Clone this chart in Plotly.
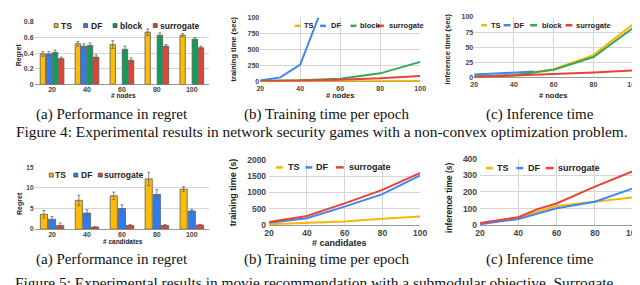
import plotly.graph_objects as go

# ---------------- data ----------------
cats = ["20", "40", "60", "80", "100"]

# Figure 4 (a) regret
reg4_ts = [0.39, 0.52, 0.51, 0.67, 0.63]
reg4_ts_err = [0.03, 0.03, 0.05, 0.04, 0.02]
reg4_df = [0.39, 0.49, None, None, None]
reg4_df_err = [0.03, 0.03, 0, 0, 0]
reg4_block = [0.41, 0.50, 0.45, 0.63, 0.58]
reg4_block_err = [0.03, 0.03, 0.04, 0.03, 0.02]
reg4_sur = [0.33, 0.35, 0.31, 0.49, 0.47]
reg4_sur_err = [0.02, 0.03, 0.03, 0.02, 0.02]

# Figure 4 (b) training time
nodes = [20, 40, 60, 80, 100]
tr4_ts = [2, 3, 5, 6, 8]
tr4_df_x = [20, 30, 40, 50]
tr4_df = [15, 65, 265, 1080]
tr4_block = [10, 20, 45, 128, 308]
tr4_sur = [5, 12, 28, 50, 88]

# Figure 4 (c) inference time
inf4_ts = [2, 4, 14, 37, 88]
inf4_df_x = [20, 40, 50]
inf4_df = [5, 8, 10]
inf4_block = [2, 4, 13, 34, 82]
inf4_sur = [1, 3, 6, 8.4, 12]

# Figure 5 (a) regret
reg5_ts = [3.6, 7.0, 8.1, 12.2, 9.7]
reg5_ts_err = [0.9, 1.2, 0.9, 1.6, 0.6]
reg5_df = [2.4, 3.9, 5.0, 8.4, 4.4]
reg5_df_err = [0.7, 0.8, 0.9, 1.2, 0.4]
reg5_sur = [0.9, 0.5, 0.9, 0.9, 1.0]
reg5_sur_err = [0.6, 0.1, 0.2, 0.2, 0.1]

# Figure 5 (b) training time
cands = [20, 40, 60, 80, 100]
tr5_ts = [29, 69, 118, 196, 265]
tr5_df = [78, 215, 568, 950, 1520]
tr5_sur = [97, 285, 667, 1079, 1597]

# Figure 5 (c) inference time
inf5_ts = [10, 48, 116, 141, 168]
inf5_df = [6, 38, 102, 141, 222]
inf5_sur_x = [20, 40, 50, 60, 80, 100]
inf5_sur = [14, 48, 97, 131, 232, 325]

# ---------------- style ----------------
C_TS_BAR, C_DF_BAR, C_BL_BAR, C_SU_BAR = "#FBBC04", "#2F7CF0", "#0F9D58", "#E04436"
C_TS, C_DF, C_BL, C_SU = "#F9B800", "#4285F4", "#34A853", "#EA4335"
SANS = "Liberation Sans, Arial, sans-serif"
SERIF = "Liberation Serif, Times New Roman, serif"
W, H = 640, 285


def px(x):
    return x / W


def py(y):
    return 1 - y / H


fig = go.Figure()


def bar(y, err, color, name, xa, ya):
    fig.add_trace(go.Bar(
        x=cats, y=y, name=name, xaxis=xa, yaxis=ya, showlegend=False,
        marker=dict(color=color, line=dict(color="#5a5a5a", width=0.8)),
        error_y=dict(type="data", array=err, color="#666", thickness=0.8, width=1.5),
    ))


def line(x, y, color, name, xa, ya, w=2):
    fig.add_trace(go.Scatter(
        x=x, y=y, name=name, mode="lines", xaxis=xa, yaxis=ya, showlegend=False,
        line=dict(color=color, width=w),
    ))


# Fig 4 a
bar(reg4_ts, reg4_ts_err, C_TS_BAR, "TS", "x", "y")
bar(reg4_df, reg4_df_err, C_DF_BAR, "DF", "x", "y")
bar(reg4_block, reg4_block_err, C_BL_BAR, "block", "x", "y")
bar(reg4_sur, reg4_sur_err, C_SU_BAR, "surrogate", "x", "y")
# Fig 4 b
line(nodes, tr4_ts, C_TS, "TS", "x2", "y2")
line(tr4_df_x, tr4_df, C_DF, "DF", "x2", "y2")
line(nodes, tr4_block, C_BL, "block", "x2", "y2")
line(nodes, tr4_sur, C_SU, "surrogate", "x2", "y2")
# Fig 4 c
line(nodes, inf4_ts, C_TS, "TS", "x3", "y3")
line(inf4_df_x, inf4_df, C_DF, "DF", "x3", "y3")
line(nodes, inf4_block, C_BL, "block", "x3", "y3")
line(nodes, inf4_sur, C_SU, "surrogate", "x3", "y3")
# Fig 5 a
bar(reg5_ts, reg5_ts_err, C_TS_BAR, "TS", "x4", "y4")
bar(reg5_df, reg5_df_err, C_DF_BAR, "DF", "x4", "y4")
bar(reg5_sur, reg5_sur_err, C_SU_BAR, "surrogate", "x4", "y4")
# Fig 5 b
line(cands, tr5_ts, C_TS, "TS", "x5", "y5")
line(cands, tr5_df, C_DF, "DF", "x5", "y5")
line(cands, tr5_sur, C_SU, "surrogate", "x5", "y5")
# Fig 5 c
line(cands, inf5_ts, C_TS, "TS", "x6", "y6")
line(cands, inf5_df, C_DF, "DF", "x6", "y6")
line(inf5_sur_x, inf5_sur, C_SU, "surrogate", "x6", "y6")

GRID = "#d6d6d6"


def tickfont(size):
    return dict(family=SANS, size=size, color="#444", weight="bold")


def cat_x(dom, anchor):
    return dict(domain=dom, anchor=anchor, type="category", showgrid=False,
                showline=False, ticks="", tickfont=tickfont(7), fixedrange=True)


def num_x(dom, anchor, size):
    return dict(domain=dom, anchor=anchor, range=[20, 100], dtick=20, tick0=20,
                showgrid=True, gridcolor=GRID, gridwidth=1, zeroline=False,
                showline=False, ticks="", tickfont=tickfont(size), ticklabelstandoff=1)


def num_y(dom, anchor, rng, dtick, size, **kw):
    d = dict(domain=dom, anchor=anchor, range=rng, dtick=dtick, showgrid=True,
             gridcolor=GRID, gridwidth=1, zeroline=True, zerolinecolor="#9a9a9a",
             zerolinewidth=1, showline=False, ticks="", tickfont=tickfont(size))
    d.update(kw)
    return d


fig.update_layout(
    width=W, height=H, margin=dict(l=0, r=0, t=0, b=0),
    paper_bgcolor="white", plot_bgcolor="white",
    barmode="group", bargap=0.3, bargroupgap=0.12,
    xaxis=cat_x([px(22), px(200)], "y"),
    yaxis=num_y([py(74), py(9.3)], "x", [0, 0.8], 0.2, 7),
    xaxis2=num_x([px(252), px(415)], "y2", 7),
    yaxis2=num_y([py(71), py(5)], "x2", [0, 1000], 250, 7,
                 tickvals=[0, 250, 500, 750, 1000],
                 ticktext=["0", "250", "500", "750", "100"]),
    xaxis3=num_x([px(470), px(632)], "y3", 7),
    yaxis3=num_y([py(67), py(4)], "x3", [0, 100], 25, 7),
    xaxis4=cat_x([px(22), px(200)], "y4"),
    yaxis4=num_y([py(224), py(160)], "x4", [0, 15], 5, 6.5),
    xaxis5=num_x([px(261), px(415)], "y5", 8.5),
    yaxis5=num_y([py(220), py(152)], "x5", [0, 2000], 500, 8.5, ticklabelstandoff=2),
    xaxis6=num_x([px(476), px(632)], "y6", 8.5),
    yaxis6=num_y([py(220), py(151)], "x6", [0, 400], 100, 8.5, ticklabelstandoff=2),
)

ann = []
shapes = []


def text(x, y, s, size, family=SANS, bold=True, angle=0, anchor="center", color="#222"):
    ann.append(dict(x=px(x), y=py(y), xref="paper", yref="paper", text=s,
                    showarrow=False, textangle=angle, xanchor=anchor, yanchor="middle",
                    font=dict(family=family, size=size, color=color,
                              weight="bold" if bold else "normal")))


def sq(x, y, color, s=4):
    shapes.append(dict(type="rect", xref="paper", yref="paper",
                       x0=px(x), x1=px(x + s), y0=py(y + s / 2), y1=py(y - s / 2),
                       fillcolor=color, line=dict(color="#444", width=0.8)))


def seg(x0, x1, y, color, w=2.5):
    shapes.append(dict(type="line", xref="paper", yref="paper",
                       x0=px(x0), x1=px(x1), y0=py(y), y1=py(y),
                       line=dict(color=color, width=w)))


# axis titles
text(7, 43, "Regret", 7, angle=-90)
text(225, 37, "training time (sec)", 7.5, angle=-90)
text(443, 37, "inference time (sec)", 7.5, angle=-90)
text(7, 197, "Regret", 7, angle=-90)
text(225, 186, "training time (s)", 9, angle=-90)
text(445, 191, "inference time (s)", 8.5, angle=-90)
text(113, 86, "# nodes", 6.5)
text(333, 86, "# nodes", 7.5)
text(550, 85, "# nodes", 7.5)
text(112, 237, "# candidates", 6.5)
text(333, 238, "# candidates", 9)

# legends
LF = 8.5
sq(42, 13, C_TS_BAR); text(47, 13, "TS", LF, anchor="left")
sq(72, 13, C_DF_BAR); text(77, 13, "DF", LF, anchor="left")
sq(102, 13, C_BL_BAR); text(107, 13, "block", LF, anchor="left")
sq(143, 13, C_SU_BAR); text(148, 13, "surrogate", LF, anchor="left")

seg(287, 293, 13.3, C_TS); text(295, 13.3, "TS", 7.5, anchor="left")
seg(313, 319, 13.3, C_DF); text(322, 13.3, "DF", 7.5, anchor="left")
seg(344, 350, 13.3, C_BL); text(352, 13.3, "block", 7.5, anchor="left")
seg(372, 378, 13.3, C_SU); text(381, 13.3, "surrogate", 7.5, anchor="left")

seg(477, 483, 12.7, C_TS); text(485, 12.7, "TS", 7.5, anchor="left")
seg(500, 507, 12.7, C_DF); text(509, 12.7, "DF", 7.5, anchor="left")
seg(527, 534, 12.7, C_BL); text(537, 12.7, "block", 7.5, anchor="left")
seg(563, 570, 12.7, C_SU); text(572, 12.7, "surrogate", 7.5, anchor="left")

sq(37, 168, C_TS_BAR); text(41, 168, "TS", LF, anchor="left")
sq(62, 168, C_DF_BAR); text(67, 168, "DF", LF, anchor="left")
sq(87, 168, C_SU_BAR); text(91, 168, "surrogate", LF, anchor="left")

seg(268, 275, 160, C_TS); text(278, 160, "TS", 9, anchor="left")
seg(298, 305, 160, C_DF); text(307, 160, "DF", 9, anchor="left")
seg(329, 337, 160, C_SU); text(340, 160, "surrogate", 9, anchor="left")

seg(482, 489, 160.7, C_TS); text(491, 160.7, "TS", 9, anchor="left")
seg(513, 520, 160.7, C_DF); text(523, 160.7, "DF", 9, anchor="left")
seg(543, 551, 160.7, C_SU); text(553, 160.7, "surrogate", 9, anchor="left")

# captions
CF = 15
text(101, 105.5, "(a) Performance in regret", CF, SERIF, bold=False, color="#111")
text(319, 105.5, "(b) Training time per epoch", CF, SERIF, bold=False, color="#111")
text(537, 105.5, "(c) Inference time", CF, SERIF, bold=False, color="#111")
text(1, 122.5, "Figure 4: Experimental results in network security games with a non-convex optimization problem.",
     15.4, SERIF, bold=False, anchor="left", color="#111")
text(101, 255, "(a) Performance in regret", CF, SERIF, bold=False, color="#111")
text(319, 255, "(b) Training time per epoch", CF, SERIF, bold=False, color="#111")
text(537, 255, "(c) Inference time", CF, SERIF, bold=False, color="#111")
text(0, 279, "Figure 5: Experimental results in movie recommendation with a submodular objective. Surrogate",
     15.4, SERIF, bold=False, anchor="left", color="#111")

fig.update_layout(annotations=ann, shapes=shapes)
fig.write_html("out.html")
